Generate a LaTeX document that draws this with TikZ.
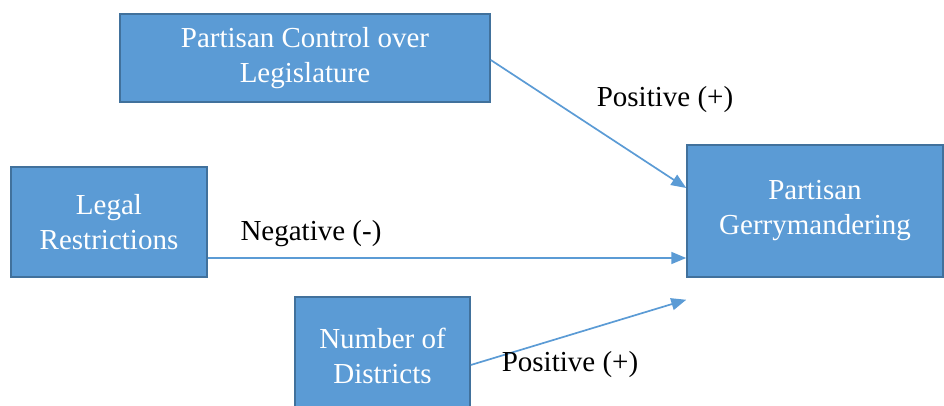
\documentclass[tikz,border=0pt]{standalone}
\usepackage{fontspec}
\setmainfont{Liberation Serif}
\usepackage{tikz}
\usetikzlibrary{arrows.meta,positioning}
\definecolor{boxblue}{HTML}{5B9BD5}
\definecolor{boxedge}{HTML}{41719C}

\begin{document}
\begin{tikzpicture}[
		x=1pt, y=-1pt,
		>={Triangle[length=15pt,width=12pt]},
		font=\fontsize{29}{35}\selectfont,
		factor/.style={
			rectangle,
			draw=boxedge,
			line width=1.5pt,
			fill=boxblue,
			text=white,
			align=center,
			inner sep=0pt
		},
		link/.style={
			draw=boxblue,
			line width=1.7pt,
			->
		},
		effect/.style={
			text=black,
			inner sep=0pt
		}
		]
		\useasboundingbox (0,0) rectangle (944,406);
		% We start by placing the blocks
		
		\node [factor, minimum width=370pt, minimum height=88pt] (control) at (305,58)
		{Partisan Control over\\Legislature};
		
		\node [factor, minimum width=196pt, minimum height=110pt] (legal) at (109,222)
		{Legal\\Restrictions};
		
		\node [factor, minimum width=175pt, minimum height=118pt] (districts) at (382.5,356)
		{Number of\\Districts};
		
		\node [factor, minimum width=256pt, minimum height=132pt] (gerry) at (815,211)
		{Partisan\\Gerrymandering};
		
		% free end of the last arrow
		\coordinate (gerrylow) at ([yshift=-22pt]gerry.south west);
		
		\draw [link] ([yshift=-2pt]control.east) -- ([yshift=23pt]gerry.west);
		\draw [link] ([yshift=-36pt]legal.east) -- ([yshift=-36pt]legal.east -| gerry.west);
		\draw [link] ([yshift=-9pt]districts.east) -- (gerrylow);
		
		\node [effect] (pos1) at (665,100) {Positive (+)};
		\node [effect] (neg) at (311,234) {Negative (-)};
		\node [effect] (pos2) at (570,365) {Positive (+)};
		
\end{tikzpicture}
\end{document}
